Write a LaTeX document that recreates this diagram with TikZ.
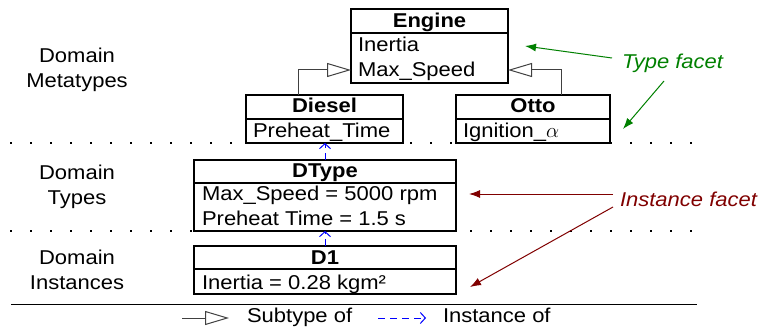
\documentclass[tikz,border=0pt]{standalone}
\usepackage{fontspec}
\setmainfont[FakeStretch=1.1]{Liberation Sans}
\usetikzlibrary{arrows.meta}
\definecolor{facetgreen}{RGB}{0,128,0}
\definecolor{facetred}{RGB}{128,0,0}
\definecolor{conngray}{RGB}{64,64,64}
\begin{document}
\begin{tikzpicture}[x=1pt,y=-1pt,
  every node/.style={font=\fontsize{20}{24}\selectfont, inner sep=0pt, outer sep=0pt},
  cls/.style={draw=black, line width=1.3pt, fill=white, rectangle, anchor=north west},
  ttl/.style={anchor=base, font=\fontsize{20}{24}\selectfont\bfseries},
  attr/.style={anchor=base west},
  lbl/.style={align=center, font=\fontsize{20}{25}\selectfont},
  subarrow/.style={draw=conngray, line width=1pt, -{Triangle[open, length=24pt, width=14pt, line width=1pt]}},
  instarrow/.style={draw=blue, line width=1pt, dash pattern=on 7pt off 5pt, -{Straight Barb[length=5pt, width=11pt, line width=1pt]}},
  dotrow/.style={draw=black, line width=1.5pt, dash pattern=on 1.5pt off 18.5pt},
  typearr/.style={draw=facetgreen, line width=1pt, -{Latex[length=11pt, width=8pt]}},
  instfacetarr/.style={draw=facetred, line width=1pt, -{Latex[length=11pt, width=8pt]}}
]
\useasboundingbox (0,0) rectangle (762,331);

% layer separators
\coordinate (d1a) at (10,143); \coordinate (d1b) at (692,143);
\coordinate (d2a) at (10,231); \coordinate (d2b) at (692,231);
\draw[dotrow] (d1a) -- (d1b);
\draw[dotrow] (d2a) -- (d2b);

% left labels
\node[lbl] (lmeta) at (77,70) {Domain\\Metatypes};
\node[lbl] (ltypes) at (77,187) {Domain\\Types};
\node[lbl] (linst) at (77,270) {Domain\\Instances};

% Engine
\node[cls, minimum width=157pt, minimum height=74pt] (engine) at (351,9) {};
\draw[line width=1.3pt] ([yshift=-24pt]engine.north west) -- ([yshift=-24pt]engine.north east);
\node[ttl] (engineT) at ([yshift=-19pt]engine.north) {Engine};
\node[attr] (engineA) at ([xshift=7pt,yshift=-43pt]engine.north west) {Inertia};
\node[attr] (engineB) at ([xshift=7pt,yshift=-67.5pt]engine.north west) {Max\_Speed};

% Diesel
\node[cls, minimum width=157pt, minimum height=48pt] (diesel) at (246,95) {};
\draw[line width=1.3pt] ([yshift=-24pt]diesel.north west) -- ([yshift=-24pt]diesel.north east);
\node[ttl] (dieselT) at ([yshift=-18pt]diesel.north) {Diesel};
\node[attr] (dieselA) at ([xshift=7pt,yshift=-43pt]diesel.north west) {Preheat\_Time};

% Otto
\node[cls, minimum width=154pt, minimum height=48pt] (otto) at (456,95) {};
\draw[line width=1.3pt] ([yshift=-24pt]otto.north west) -- ([yshift=-24pt]otto.north east);
\node[ttl] (ottoT) at ([yshift=-18pt]otto.north) {Otto};
\node[attr] (ottoA) at ([xshift=7pt,yshift=-43pt]otto.north west) {Ignition\_$\alpha$};

% DType
\node[cls, minimum width=262pt, minimum height=71pt] (dtype) at (194,160) {};
\draw[line width=1.3pt] ([yshift=-23pt]dtype.north west) -- ([yshift=-23pt]dtype.north east);
\node[ttl] (dtypeT) at ([yshift=-17.5pt]dtype.north) {DType};
\node[attr] (dtypeA) at ([xshift=8pt,yshift=-40pt]dtype.north west) {Max\_Speed = 5000 rpm};
\node[attr] (dtypeB) at ([xshift=8pt,yshift=-65pt]dtype.north west) {Preheat Time = 1.5 s};

% D1
\node[cls, minimum width=262pt, minimum height=48pt] (done) at (194,246) {};
\draw[line width=1.3pt] ([yshift=-23pt]done.north west) -- ([yshift=-23pt]done.north east);
\node[ttl] (doneT) at ([yshift=-18.5pt]done.north) {D1};
\node[attr] (doneA) at ([xshift=8pt,yshift=-43pt]done.north west) {Inertia = 0.28 kgm²};

% subtype connectors
\draw[subarrow] ([xshift=-26.5pt]diesel.north) |- ([yshift=-24pt]engine.west);
\draw[subarrow] ([xshift=28pt]otto.north) |- ([yshift=-24pt]engine.east);

% instance connectors
\draw[instarrow] (dtype.north) -- (dtype.north |- diesel.south);
\draw[instarrow] (done.north) -- (done.north |- dtype.south);

% facets
\node[anchor=base west, text=facetgreen, font=\fontsize{20}{24}\selectfont\itshape] (typefacet) at (622,69) {Type facet};
\coordinate (tf1s) at (612,58); \coordinate (tf1e) at (525,46);
\coordinate (tf2s) at (664,81); \coordinate (tf2e) at (623,129);
\draw[typearr] (tf1s) -- (tf1e);
\draw[typearr] (tf2s) -- (tf2e);

\node[anchor=base west, text=facetred, font=\fontsize{20}{24}\selectfont\itshape] (instfacet) at (620,206) {Instance facet};
\coordinate (if1s) at (613,194); \coordinate (if1e) at (469,194);
\coordinate (if2s) at (613,207); \coordinate (if2e) at (470,287);
\draw[instfacetarr] (if1s) -- (if1e);
\draw[instfacetarr] (if2s) -- (if2e);

% legend
\coordinate (hla) at (11,304.5); \coordinate (hlb) at (697,304.5);
\draw[line width=1.5pt] (hla) -- (hlb);
\coordinate (lg1a) at (182,318); \coordinate (lg1b) at (229,318);
\draw[subarrow] (lg1a) -- (lg1b);
\node[anchor=base west] (lgsub) at (247,322) {Subtype of};
\coordinate (lg2a) at (378,318); \coordinate (lg2b) at (426,318);
\draw[instarrow] (lg2a) -- (lg2b);
\node[anchor=base west] (lginst) at (443,322) {Instance of};
\end{tikzpicture}
\end{document}
